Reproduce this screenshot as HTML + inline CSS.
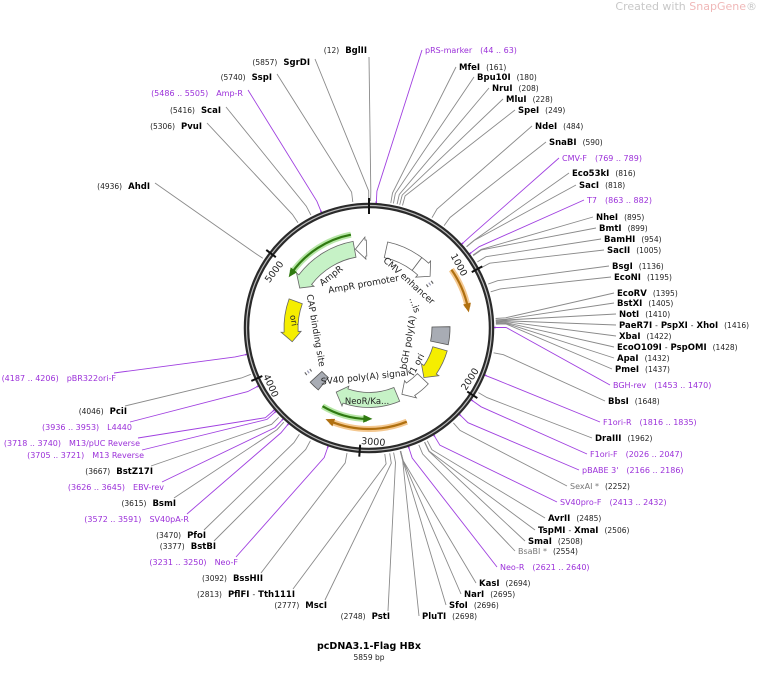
<!DOCTYPE html>
<html><head><meta charset="utf-8"><style>
html,body{margin:0;padding:0;background:#fff;}
svg{display:block;font-family:"DejaVu Sans","Liberation Sans",sans-serif;}
.b{font-weight:bold;font-size:8.5px;fill:#000}
.n{font-size:7.5px;fill:#222}
.p{font-size:8px;fill:#9b30d9}
.g{font-size:8px;fill:#777}
.lab{font-size:9px;fill:#222}
.num{font-size:9.5px;fill:#222}
</style></head><body>
<svg id="s" width="760" height="678" viewBox="0 0 760 678" xmlns="http://www.w3.org/2000/svg">
<text x="757" y="10" text-anchor="end" style="font-size:11px;fill:#c8c8c8">Created with <tspan fill="#f0b8b8">SnapGene</tspan>®</text>
<g id="L"></g>
<g id="F"></g>
<circle cx="369" cy="328" r="122.5" fill="none" stroke="#2a2a2a" stroke-width="5.5"/>
<circle cx="369" cy="328" r="122.5" fill="none" stroke="#bbb" stroke-width="1.2"/>
<line x1="369" y1="198" x2="369" y2="214" stroke="#111" stroke-width="2"/>
<g id="T"></g>
<!-- ring numbers -->
<text class="num" text-anchor="end" transform="translate(462,277) rotate(61.4)">1000</text>
<text class="num" text-anchor="start" transform="translate(466,391) rotate(-57.1)">2000</text>
<text class="num" text-anchor="start" transform="translate(361,444) rotate(4.3)">3000</text>
<text class="num" text-anchor="start" transform="translate(263,376) rotate(65.8)">4000</text>
<text class="num" text-anchor="end" transform="translate(284,264) rotate(-52.8)">5000</text>
<!-- inner labels -->
<text class="lab" text-anchor="middle" transform="translate(407,283) rotate(42)">CMV enhancer</text>
<text class="lab" text-anchor="middle" transform="translate(412,306) rotate(70)">...is</text>
<text class="lab" text-anchor="middle" transform="translate(411,343) rotate(-80)">bGH poly(A)</text>
<text class="lab" text-anchor="middle" transform="translate(419,366) rotate(-62)">f1 ori</text>
<text class="lab" text-anchor="middle" transform="translate(365,380) rotate(-6)">SV40 poly(A) signal</text>
<text class="lab" text-anchor="middle" transform="translate(313,331) rotate(80)">CAP binding site</text>
<text class="lab" text-anchor="middle" transform="translate(333,278) rotate(-38)">AmpR</text>
<text class="lab" text-anchor="middle" transform="translate(364,287) rotate(-10)">AmpR promoter</text>
<text class="lab" text-anchor="middle" style="font-size:8.5px" transform="translate(291,321) rotate(80)">ori</text>
<text class="lab" text-anchor="middle" style="font-size:8.5px" x="367" y="404">NeoR/Ka...</text>

<!-- right labels -->
<text x="459" y="70"><tspan class="b">MfeI</tspan><tspan class="n" dx="6">(161)</tspan></text>
<text x="477" y="80"><tspan class="b">Bpu10I</tspan><tspan class="n" dx="6">(180)</tspan></text>
<text x="492" y="91"><tspan class="b">NruI</tspan><tspan class="n" dx="6">(208)</tspan></text>
<text x="506" y="102"><tspan class="b">MluI</tspan><tspan class="n" dx="6">(228)</tspan></text>
<text x="518" y="113"><tspan class="b">SpeI</tspan><tspan class="n" dx="6">(249)</tspan></text>
<text x="535" y="129"><tspan class="b">NdeI</tspan><tspan class="n" dx="6">(484)</tspan></text>
<text x="549" y="145"><tspan class="b">SnaBI</tspan><tspan class="n" dx="6">(590)</tspan></text>
<text x="562" y="161" class="p">CMV-F<tspan dx="8">(769 .. 789)</tspan></text>
<text x="572" y="176"><tspan class="b">Eco53kI</tspan><tspan class="n" dx="6">(816)</tspan></text>
<text x="579" y="188"><tspan class="b">SacI</tspan><tspan class="n" dx="6">(818)</tspan></text>
<text x="587" y="203" class="p">T7<tspan dx="8">(863 .. 882)</tspan></text>
<text x="596" y="220"><tspan class="b">NheI</tspan><tspan class="n" dx="6">(895)</tspan></text>
<text x="599" y="231"><tspan class="b">BmtI</tspan><tspan class="n" dx="6">(899)</tspan></text>
<text x="604" y="242"><tspan class="b">BamHI</tspan><tspan class="n" dx="6">(954)</tspan></text>
<text x="607" y="253"><tspan class="b">SacII</tspan><tspan class="n" dx="6">(1005)</tspan></text>
<text x="612" y="269"><tspan class="b">BsgI</tspan><tspan class="n" dx="6">(1136)</tspan></text>
<text x="614" y="280"><tspan class="b">EcoNI</tspan><tspan class="n" dx="6">(1195)</tspan></text>
<text x="617" y="296"><tspan class="b">EcoRV</tspan><tspan class="n" dx="6">(1395)</tspan></text>
<text x="617" y="306"><tspan class="b">BstXI</tspan><tspan class="n" dx="6">(1405)</tspan></text>
<text x="619" y="317"><tspan class="b">NotI</tspan><tspan class="n" dx="6">(1410)</tspan></text>
<text x="619" y="328"><tspan class="b">PaeR7I</tspan><tspan class="n" dx="3">-</tspan><tspan class="b" dx="3">PspXI</tspan><tspan class="n" dx="3">-</tspan><tspan class="b" dx="3">XhoI</tspan><tspan class="n" dx="6">(1416)</tspan></text>
<text x="619" y="339"><tspan class="b">XbaI</tspan><tspan class="n" dx="6">(1422)</tspan></text>
<text x="617" y="350"><tspan class="b">EcoO109I</tspan><tspan class="n" dx="3">-</tspan><tspan class="b" dx="3">PspOMI</tspan><tspan class="n" dx="6">(1428)</tspan></text>
<text x="617" y="361"><tspan class="b">ApaI</tspan><tspan class="n" dx="6">(1432)</tspan></text>
<text x="615" y="372"><tspan class="b">PmeI</tspan><tspan class="n" dx="6">(1437)</tspan></text>
<text x="613" y="388" class="p">BGH-rev<tspan dx="8">(1453 .. 1470)</tspan></text>
<text x="608" y="404"><tspan class="b">BbsI</tspan><tspan class="n" dx="6">(1648)</tspan></text>
<text x="603" y="425" class="p">F1ori-R<tspan dx="8">(1816 .. 1835)</tspan></text>
<text x="595" y="441"><tspan class="b">DraIII</tspan><tspan class="n" dx="6">(1962)</tspan></text>
<text x="590" y="457" class="p">F1ori-F<tspan dx="8">(2026 .. 2047)</tspan></text>
<text x="582" y="473" class="p">pBABE 3'<tspan dx="8">(2166 .. 2186)</tspan></text>
<text x="570" y="489"><tspan class="g">SexAI *</tspan><tspan class="n" dx="6">(2252)</tspan></text>
<text x="560" y="505" class="p">SV40pro-F<tspan dx="8">(2413 .. 2432)</tspan></text>
<text x="548" y="521"><tspan class="b">AvrII</tspan><tspan class="n" dx="6">(2485)</tspan></text>
<text x="538" y="533"><tspan class="b">TspMI</tspan><tspan class="n" dx="3">-</tspan><tspan class="b" dx="3">XmaI</tspan><tspan class="n" dx="6">(2506)</tspan></text>
<text x="528" y="544"><tspan class="b">SmaI</tspan><tspan class="n" dx="6">(2508)</tspan></text>
<text x="518" y="554"><tspan class="g">BsaBI *</tspan><tspan class="n" dx="6">(2554)</tspan></text>
<text x="500" y="570" class="p">Neo-R<tspan dx="8">(2621 .. 2640)</tspan></text>
<text x="479" y="586"><tspan class="b">KasI</tspan><tspan class="n" dx="6">(2694)</tspan></text>
<text x="464" y="597"><tspan class="b">NarI</tspan><tspan class="n" dx="6">(2695)</tspan></text>
<text x="449" y="608"><tspan class="b">SfoI</tspan><tspan class="n" dx="6">(2696)</tspan></text>
<text x="422" y="619"><tspan class="b">PluTI</tspan><tspan class="n" dx="6">(2698)</tspan></text>
<text x="425" y="53" class="p">pRS-marker<tspan dx="8">(44 .. 63)</tspan></text>

<!-- left labels -->
<g text-anchor="end">
<text x="390" y="619"><tspan class="n">(2748)</tspan><tspan class="b" dx="6">PstI</tspan></text>
<text x="327" y="608"><tspan class="n">(2777)</tspan><tspan class="b" dx="6">MscI</tspan></text>
<text x="295" y="597"><tspan class="n">(2813)</tspan><tspan class="b" dx="6">PflFI</tspan><tspan class="n" dx="3">-</tspan><tspan class="b" dx="3">Tth111I</tspan></text>
<text x="263" y="581"><tspan class="n">(3092)</tspan><tspan class="b" dx="6">BssHII</tspan></text>
<text x="238" y="565" class="p">(3231 .. 3250)<tspan dx="8">Neo-F</tspan></text>
<text x="216" y="549"><tspan class="n">(3377)</tspan><tspan class="b" dx="6">BstBI</tspan></text>
<text x="206" y="538"><tspan class="n">(3470)</tspan><tspan class="b" dx="6">PfoI</tspan></text>
<text x="189" y="522" class="p">(3572 .. 3591)<tspan dx="8">SV40pA-R</tspan></text>
<text x="176" y="506"><tspan class="n">(3615)</tspan><tspan class="b" dx="6">BsmI</tspan></text>
<text x="164" y="490" class="p">(3626 .. 3645)<tspan dx="8">EBV-rev</tspan></text>
<text x="153" y="474"><tspan class="n">(3667)</tspan><tspan class="b" dx="6">BstZ17I</tspan></text>
<text x="144" y="458" class="p">(3705 .. 3721)<tspan dx="8">M13 Reverse</tspan></text>
<text x="140" y="446" class="p">(3718 .. 3740)<tspan dx="8">M13/pUC Reverse</tspan></text>
<text x="132" y="430" class="p">(3936 .. 3953)<tspan dx="8">L4440</tspan></text>
<text x="127" y="414"><tspan class="n">(4046)</tspan><tspan class="b" dx="6">PciI</tspan></text>
<text x="116" y="381" class="p">(4187 .. 4206)<tspan dx="8">pBR322ori-F</tspan></text>
<text x="150" y="189"><tspan class="n">(4936)</tspan><tspan class="b" dx="6">AhdI</tspan></text>
<text x="202" y="129"><tspan class="n">(5306)</tspan><tspan class="b" dx="6">PvuI</tspan></text>
<text x="221" y="113"><tspan class="n">(5416)</tspan><tspan class="b" dx="6">ScaI</tspan></text>
<text x="243" y="96" class="p">(5486 .. 5505)<tspan dx="8">Amp-R</tspan></text>
<text x="272" y="80"><tspan class="n">(5740)</tspan><tspan class="b" dx="6">SspI</tspan></text>
<text x="310" y="65"><tspan class="n">(5857)</tspan><tspan class="b" dx="6">SgrDI</tspan></text>
<text x="367" y="53"><tspan class="n">(12)</tspan><tspan class="b" dx="6">BglII</tspan></text>
</g>

<text x="369" y="649" text-anchor="middle" style="font-weight:bold;font-size:9.5px;fill:#000">pcDNA3.1-Flag HBx</text>
<text x="369" y="660" text-anchor="middle" style="font-size:7.5px;fill:#222">5859 bp</text>

<script>
(function(){
var NS="http://www.w3.org/2000/svg",cx=369,cy=328,N=5859;
function P(r,p){var a=p/N*2*Math.PI;return [cx+r*Math.sin(a),cy-r*Math.cos(a)];}
function f(q){return q[0].toFixed(1)+","+q[1].toFixed(1);}
function el(g,t,at){var e=document.createElementNS(NS,t);for(var k in at)e.setAttribute(k,at[k]);document.getElementById(g).appendChild(e);return e;}
var L=[[161,459,70,1],[180,477,80,1],[208,492,91,1],[228,506,102,1],[249,518,113,1],[484,535,129,1],[590,549,145,1],[779,562,161,1,1],[816,572,176,1],[818,579,188,1],[872,587,203,1,1],[895,596,220,1],[899,599,231,1],[954,604,242,1],[1005,607,253,1],[1136,612,269,1],[1195,614,280,1],[1395,617,296,1],[1405,617,306,1],[1410,619,317,1],[1416,619,328,1],[1422,619,339,1],[1428,617,350,1],[1432,617,361,1],[1437,615,372,1],[1461,613,388,1,1],[1648,608,404,1],[1825,603,425,1,1],[1962,595,441,1],[2036,590,457,1,1],[2176,582,473,1,1],[2252,570,489,1],[2422,560,505,1,1],[2485,548,521,1],[2506,538,533,1],[2508,528,544,1],[2554,518,554,1],[2630,500,570,1,1],[2694,479,586,1],[2695,464,597,1],[2696,449,608,1],[2698,422,619,1],[54,425,53,1,1],
[2748,388,611,0],[2777,325,600,0],[2813,293,589,0],[3092,261,573,0],[3240,236,557,0,1],[3377,214,541,0],[3470,204,530,0],[3581,187,514,0,1],[3615,174,498,0],[3635,162,482,0,1],[3667,151,466,0],[3713,142,450,0,1],[3729,138,438,0,1],[3944,130,422,0,1],[4046,125,406,0],[4196,114,373,0,1],[4936,152,186,-1],[5306,204,126,-1],[5416,223,110,-1],[5495,245,93,-1,1],[5740,274,77,-1],[5857,312,62,-1],[12,369,57,0]];
L.forEach(function(d){
 var a=P(127,d[0]),b=P(137,d[0]),x=d[1],y=d[2];
 if(d[3]==1){x-=3;y-=3;} else if(d[3]==-1){x+=3;y-=3;}
 var c=d[4]?"#a040e0":"#8a8a8a";
 el("L","polyline",{points:f(a)+" "+f(b)+" "+x+","+y,fill:"none",stroke:c,"stroke-width":"0.9"});
 if(d[4]){var q=P(124,d[0]);el("L","line",{x1:q[0],y1:q[1],x2:a[0],y2:a[1],stroke:c,"stroke-width":"1.5"});}
});
[1000,2000,3000,4000,5000].forEach(function(p){var a=P(117,p),b=P(129,p);el("T","line",{x1:a[0],y1:a[1],x2:b[0],y2:b[1],stroke:"#111","stroke-width":"2"});});
function arrow(p1,p2,rm,w,dir,fill,stroke){
 var ro=rm+w/2,ri=rm-w/2,h=10/(2*Math.PI*rm)*N,d;
 var lg=function(a,b){return (b-a)>N/2?1:0;};
 if(dir==1){var e=p2-h;d="M"+f(P(ro,p1))+"A"+ro+","+ro+" 0 "+lg(p1,e)+" 1 "+f(P(ro,e))+"L"+f(P(ro+3,e))+"L"+f(P(rm,p2))+"L"+f(P(ri-3,e))+"L"+f(P(ri,e))+"A"+ri+","+ri+" 0 "+lg(p1,e)+" 0 "+f(P(ri,p1))+"Z";}
 else if(dir==-1){var s=p1+h;d="M"+f(P(ro,s))+"A"+ro+","+ro+" 0 "+lg(s,p2)+" 1 "+f(P(ro,p2))+"L"+f(P(ri,p2))+"A"+ri+","+ri+" 0 "+lg(s,p2)+" 0 "+f(P(ri,s))+"L"+f(P(ri-3,s))+"L"+f(P(rm,p1))+"L"+f(P(ro+3,s))+"Z";}
 else {d="M"+f(P(ro,p1))+"A"+ro+","+ro+" 0 0 1 "+f(P(ro,p2))+"L"+f(P(ri,p2))+"A"+ri+","+ri+" 0 0 0 "+f(P(ri,p1))+"Z";}
 el("F","path",{d:d,fill:fill,stroke:stroke,"stroke-width":"0.8"});
}
function arc(p1,p2,r,dir,col,halo){
 var h=9/(2*Math.PI*r)*N,s=p1,e=p2;
 if(dir==1)e=p2-h*0.6;else s=p1+h*0.6;
 var d="M"+f(P(r,s))+"A"+r+","+r+" 0 0 1 "+f(P(r,e));
 if(halo)el("F","path",{d:d,fill:"none",stroke:halo,"stroke-width":"6"});
 el("F","path",{d:d,fill:"none",stroke:col,"stroke-width":"2.2"});
 var t=dir==1?p2:p1,b=dir==1?p2-h:p1+h,a1=P(r+4,b),a2=P(r-4,b),tp=P(r,t);
 el("F","path",{d:"M"+f(a1)+"L"+f(tp)+"L"+f(a2)+"Z",fill:col});
}
arrow(200,600,80,16,0,"#fff","#666");
arrow(600,810,80,16,1,"#fff","#666");
arrow(1450,1660,72,18,0,"#a8acb4","#555");
arrow(1730,2150,74,15,1,"#f5ee00","#666");
arrow(2170,2500,74,15,1,"#fff","#666");
arrow(2560,3370,72,15,1,"#c6f2c6","#666");
arrow(3570,3700,72,16,0,"#a8acb4","#555");
arrow(4230,4720,78,14,-1,"#f5ee00","#666");
arrow(4883,5690,80,16,-1,"#c6f2c6","#666");
arrow(5700,5830,80,16,-1,"#fff","#666");
[[860,900],[3790,3830]].forEach(function(b){for(var i=0;i<3;i++){var a=P(72+i*3,b[0]),c=P(72+i*3,b[1]);el("F","line",{x1:a[0],y1:a[1],x2:c[0],y2:c[1],stroke:i==1?"#9a9ab8":"#666","stroke-width":"1.2"});}});
arc(4920,5680,95,-1,"#2f7a10","#b6e6a6");
arc(2895,3430,91,-1,"#2f7a10","#b6e6a6");
arc(890,1320,101,1,"#b07010","#f4c890");
arc(2572,3345,101,1,"#b07010","#f4c890");
})();
</script>
</svg>
</body></html>
